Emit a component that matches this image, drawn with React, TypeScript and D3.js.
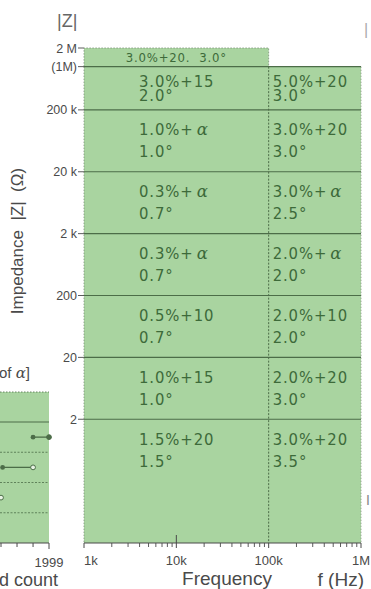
import React from 'react';
import * as d3 from 'd3';

// impedance bounds (ohm) of each accuracy row, top to bottom
const rowTops = [1e6, 2e5, 2e4, 2e3, 200, 20, 2];
const rowBottoms = [2e5, 2e4, 2e3, 200, 20, 2, 0.02];
// basic accuracy, 1k - 100k Hz
const colLowMag = ['3.0%+15', '1.0%+α', '0.3%+α', '0.3%+α', '0.5%+10', '1.0%+15', '1.5%+20'];
const colLowPhase = ['2.0°', '1.0°', '0.7°', '0.7°', '0.7°', '1.0°', '1.5°'];
// basic accuracy, 100k - 1M Hz
const colHighMag = ['5.0%+20', '3.0%+20', '3.0%+α', '2.0%+α', '2.0%+10', '2.0%+20', '3.0%+20'];
const colHighPhase = ['3.0°', '3.0°', '2.5°', '2.0°', '2.0°', '3.0°', '3.5°'];
// extra band on top (1M - 2M, 1k - 100k)
const topBand = { from: 1e6, to: 2e6, text: '3.0%+20.  3.0°' };

const zTicks = [2e6, 1e6, 2e5, 2e4, 2e3, 200, 20, 2];
const zTickLabels = ['2 M', '(1M)', '200 k', '20 k', '2 k', '200', '20', '2'];
const fTicks = [1e3, 1e4, 1e5, 1e6];
const fTickLabels = ['1k', '10k', '100k', '1M'];

// partial neighbour chart on the left edge
const sideTicks = [1400, 1600, 1800, 1999];
const sideRows = [
  { start: 1800, end: 1999, endOpen: false },
  { start: 1420, end: 1800, endOpen: true },
  { start: 1400, end: 1400, endOpen: true },
];

const GREEN = '#a9d4a0';
const INK = '#3d6a3a';
const LINE = '#4c6d48';
const GREY = '#4a4a4a';
const CELL_FONT = 'DejaVu Sans Condensed, sans-serif';
const CELL_SIZE = 16.5;

const x = d3.scaleLog().domain([1e3, 1e6]).range([84, 361]);
const y = d3.scaleLog().domain([0.02, 2e6]).range([543, 48]);
const sx = d3.scaleLinear().domain([1400, 1999]).range([1, 49]);
const sy = d3.scaleBand<number>().domain([0, 1, 2, 3]).range([422, 543]);

const fMinor: number[] = [];
[1e3, 1e4, 1e5].forEach(d => {
  for (let k = 2; k <= 9; k++) fMinor.push(d * k);
});

function Mag({ s, px, py }: { s: string; px: number; py: number }) {
  const parts = s.split('α');
  return (
    <text x={px} y={py} fill={INK} fontSize={CELL_SIZE} fontFamily={CELL_FONT} letterSpacing={0.9}>
      {parts[0]}
      {parts.length > 1 && (
        <tspan fontFamily="DejaVu Serif, serif" fontStyle="italic" dx={3}>α</tspan>
      )}
    </text>
  );
}

export default function App() {
  return (
    <svg width={371} height={589} style={{ position: 'absolute', left: 0, top: 0, background: '#fff' }}
      fontFamily="Liberation Sans, Arial, sans-serif">
      {/* side panel */}
      <rect x={0} y={392} width={sx(1999)} height={543 - 392} fill={GREEN} />
      <line x1={0} x2={sx(1999)} y1={392} y2={392} stroke={LINE} strokeWidth={0.8} strokeDasharray="1.5 1.5" />
      {sy.domain().map(i => (
        <line key={i} x1={0} x2={sx(1999)} y1={sy(i)!} y2={sy(i)!} stroke={LINE}
          strokeWidth={i === 0 ? 1 : 0.8} strokeDasharray={i === 0 ? undefined : '2 1.5'} />
      ))}
      {sideRows.map((r, i) => {
        const cy = sy(i)! + sy.bandwidth() / 2;
        return (
          <g key={i}>
            <line x1={sx(r.start)} x2={sx(r.end)} y1={cy} y2={cy} stroke={LINE} strokeWidth={1.3} />
            {r.start !== r.end && <circle cx={sx(r.start)} cy={cy} r={2.4} fill={LINE} />}
            <circle cx={sx(r.end)} cy={cy} r={2.4} fill={r.endOpen ? '#e8f3e4' : LINE} stroke={LINE} strokeWidth={1} />
          </g>
        );
      })}
      <line x1={0} x2={sx(1999)} y1={543} y2={543} stroke={GREY} strokeWidth={1} />
      {sideTicks.map(t => (
        <line key={t} x1={sx(t)} x2={sx(t)} y1={543} y2={t === 1999 ? 549 : 547} stroke={GREY} strokeWidth={1} />
      ))}
      <text x={sx(1999)} y={567} fontSize={13} fill={GREY} textAnchor="middle">1999</text>
      <text x={-1} y={586} fontSize={18} fill={GREY}>d count</text>
      <text x={-1} y={378} fontSize={15} fill={GREY}>of <tspan fontFamily="DejaVu Serif, serif" fontStyle="italic">α</tspan>]</text>

      {/* main accuracy chart */}
      <rect x={x(1e3)} y={y(topBand.to)} width={x(1e5) - x(1e3)} height={y(topBand.from) - y(topBand.to)} fill={GREEN} />
      <rect x={x(1e3)} y={y(1e6)} width={x(1e6) - x(1e3)} height={y(0.02) - y(1e6)} fill={GREEN} />
      <path d={`M${x(1e3)},${y(topBand.from)}V${y(topBand.to)}H${x(1e5)}V${y(topBand.from)}`}
        fill="none" stroke="#7a8f76" strokeWidth={0.8} strokeDasharray="1.5 1.5" />
      <line x1={x(1e3)} x2={x(1e3)} y1={y(1e6)} y2={y(0.02)} stroke="#7a8f76" strokeWidth={0.8} strokeDasharray="1.5 1.5" />
      <line x1={x(1e6)} x2={x(1e6)} y1={y(1e6)} y2={y(0.02)} stroke="#8a9d86" strokeWidth={0.8} strokeDasharray="1.5 1.5" />
      <line x1={x(1e5)} x2={x(1e5)} y1={y(1e6)} y2={y(0.02)} stroke={LINE} strokeWidth={1} strokeDasharray="2 1.5" />
      {rowTops.map(t => (
        <line key={t} x1={x(1e3)} x2={x(1e6)} y1={y(t)} y2={y(t)} stroke={LINE} strokeWidth={1.1} />
      ))}
      <text x={(x(1e3) + x(1e5)) / 2} y={(y(topBand.from) + y(topBand.to)) / 2 + 4.5} fill={INK} fontSize={13}
        textAnchor="middle" fontFamily={CELL_FONT} letterSpacing={0.8} style={{ whiteSpace: 'pre' }}>{topBand.text}</text>
      {rowTops.map((t, i) => {
        const yTop = y(t);
        const yBot = y(Math.max(rowBottoms[i], t / 10));
        const h = yBot - yTop;
        const gap = Math.min(22, h - 29);
        const c1 = (yTop + yBot) / 2 - gap / 2 + 5.5;
        const c2 = c1 + gap;
        return (
          <g key={t}>
            <Mag s={colLowMag[i]} px={139} py={c1} />
            <text x={139} y={c2} fill={INK} fontSize={CELL_SIZE} fontFamily={CELL_FONT} letterSpacing={0.9}>{colLowPhase[i]}</text>
            <Mag s={colHighMag[i]} px={x(1e5) + 4} py={c1} />
            <text x={x(1e5) + 4} y={c2} fill={INK} fontSize={CELL_SIZE} fontFamily={CELL_FONT} letterSpacing={0.9}>{colHighPhase[i]}</text>
          </g>
        );
      })}

      {/* y axis */}
      {zTicks.map((t, i) => (
        <g key={t}>
          <line x1={78} x2={x(1e3)} y1={y(t)} y2={y(t)} stroke={GREY} strokeWidth={0.9} />
          <text x={77} y={y(t) + 4.5} fontSize={12.5} fill={GREY} textAnchor="end" style={{ whiteSpace: 'pre' }}>{zTickLabels[i]}</text>
        </g>
      ))}
      <text x={57} y={27} fontSize={18} fill="#666">|Z|</text>
      <text transform="translate(23,241) rotate(-90)" fontSize={17} fill={GREY} textAnchor="middle"
        style={{ whiteSpace: 'pre' }}>{'Impedance  |Z|  (Ω)'}</text>

      {/* x axis */}
      <line x1={x(1e3)} x2={x(1e6)} y1={543} y2={543} stroke={GREY} strokeWidth={1} />
      {fMinor.map(t => (
        <line key={t} x1={x(t)} x2={x(t)} y1={543} y2={547} stroke={GREY} strokeWidth={0.9} />
      ))}
      {fTicks.map((t, i) => (
        <g key={t}>
          <line x1={x(t)} x2={x(t)} y1={i === 1 ? 535 : 543} y2={548} stroke={GREY} strokeWidth={1} />
          <text x={x(t)} y={565} fontSize={13} fill={GREY}
            textAnchor={i === 0 ? 'start' : 'middle'}>{fTickLabels[i]}</text>
        </g>
      ))}
      <text x={227} y={585} fontSize={19} fill={GREY} textAnchor="middle">Frequency</text>
      <text x={364} y={586} fontSize={19} fill={GREY} textAnchor="end">f (Hz)</text>
      <text x={364} y={35} fontSize={16} fill="#aaa">|</text>
      <text x={366} y={505} fontSize={14} fill="#888">I</text>
    </svg>
  );
}
